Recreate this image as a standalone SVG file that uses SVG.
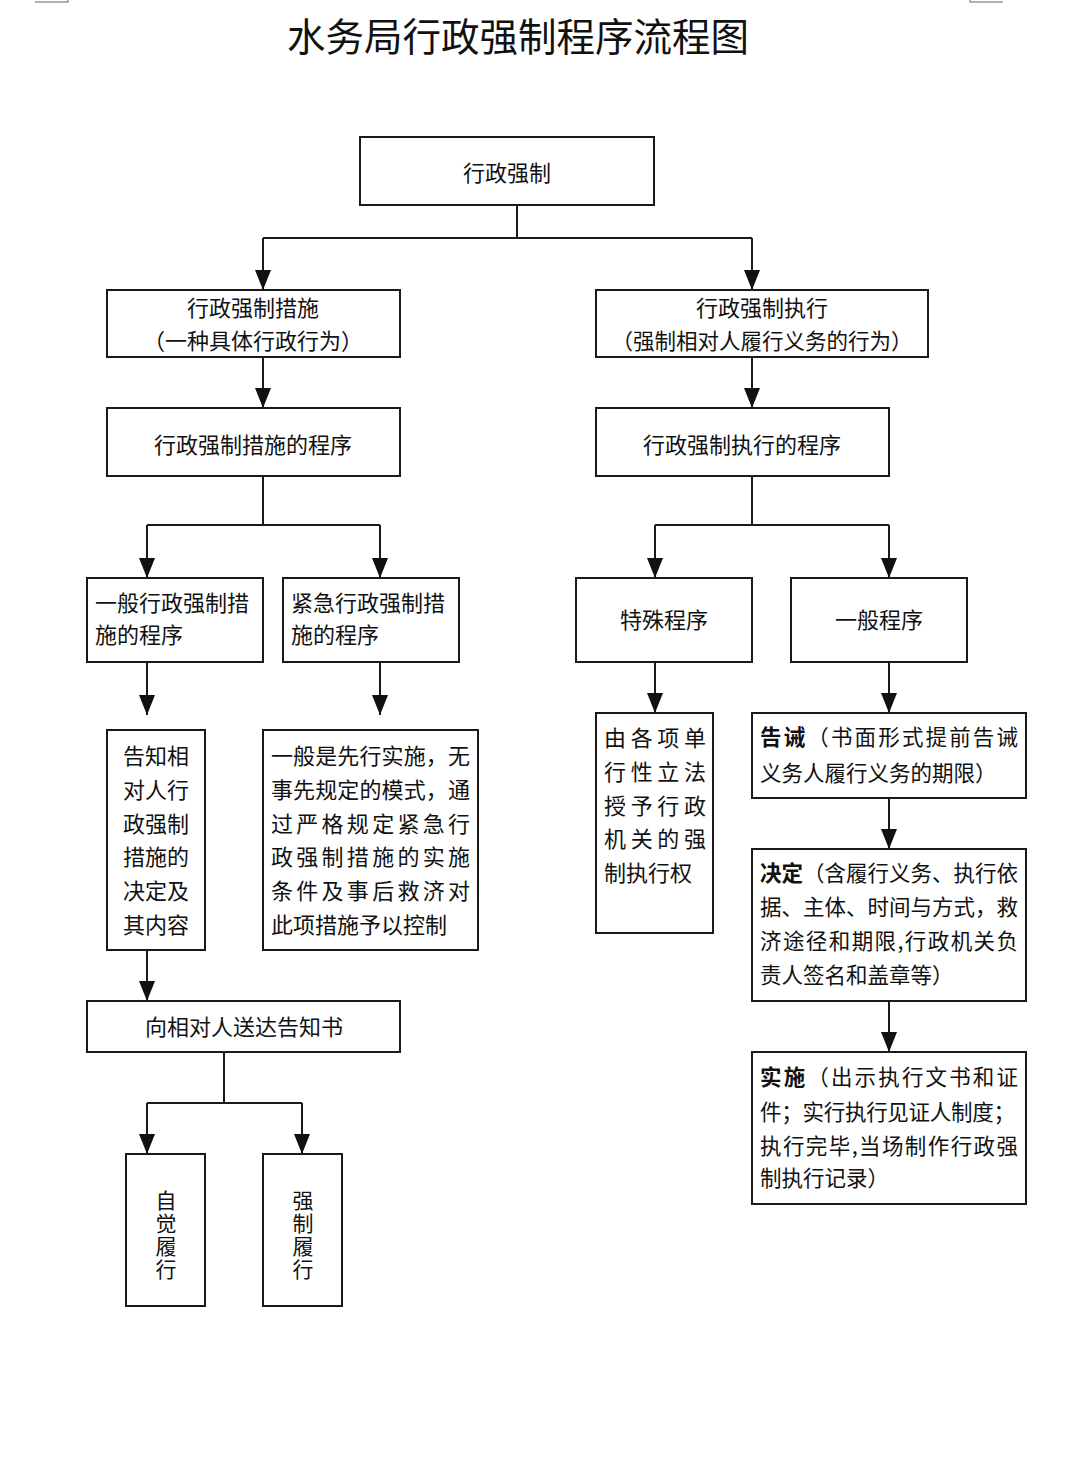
<svg xmlns="http://www.w3.org/2000/svg" width="1080" height="1484" viewBox="0 0 1080 1484">
<style>
.box{fill:#fff;stroke:#1a1a1a;stroke-width:2}
.t{font-family:"Noto Sans CJK SC","Noto Sans",sans-serif;font-size:22px;fill:#111}
.c{text-anchor:middle}
.s{font-size:21.5px}
.b{font-weight:bold}
.v{writing-mode:vertical-rl;font-size:21px;letter-spacing:2px}
.ln{fill:none;stroke:#1a1a1a;stroke-width:2}
.ar{fill:none;stroke:#1a1a1a;stroke-width:2;marker-end:url(#ah)}
.mark{fill:none;stroke:#999;stroke-width:1.5}
</style>
<defs>
<marker id="ah" viewBox="0 0 20 16" refX="20" refY="8" markerWidth="20" markerHeight="16" markerUnits="userSpaceOnUse" orient="auto">
<path d="M0,0 L20,8 L0,16 z" fill="#111"/>
</marker>
</defs>
<rect width="1080" height="1484" fill="#fff"/>
<path class="mark" d="M35,2 H68 V0"/>
<path class="mark" d="M1003,2 H970 V0"/>
<text class="t c" x="518" y="51" style="font-size:38.5px">水务局行政强制程序流程图</text>

<g id="connectors">
<path class="ln" d="M517,205 V238 H263"/>
<path class="ln" d="M517,238 H752"/>
<path class="ar" d="M263,238 V290"/>
<path class="ar" d="M752,238 V290"/>
<path class="ar" d="M263,357 V408"/>
<path class="ar" d="M752,357 V408"/>
<path class="ln" d="M263,476 V525 H147"/>
<path class="ln" d="M263,525 H380"/>
<path class="ar" d="M147,525 V578"/>
<path class="ar" d="M380,525 V578"/>
<path class="ln" d="M752,476 V525 H655"/>
<path class="ln" d="M752,525 H889"/>
<path class="ar" d="M655,525 V578"/>
<path class="ar" d="M889,525 V578"/>
<path class="ar" d="M147,662 V715"/>
<path class="ar" d="M380,662 V715"/>
<path class="ar" d="M655,662 V713"/>
<path class="ar" d="M889,662 V713"/>
<path class="ar" d="M889,798 V849"/>
<path class="ar" d="M889,1001 V1052"/>
<path class="ar" d="M147,950 V1001"/>
<path class="ln" d="M224,1052 V1103 H147"/>
<path class="ln" d="M224,1103 H302"/>
<path class="ar" d="M147,1103 V1154"/>
<path class="ar" d="M302,1103 V1154"/>
</g>

<g id="n_root">
<rect class="box" x="360" y="137" width="294" height="68"/>
<text class="t c" x="507" y="181">行政强制</text>
</g>
<g id="n_cuoshi">
<rect class="box" x="107" y="290" width="293" height="67"/>
<text class="t c" x="253" y="316">行政强制措施</text>
<text class="t c" x="253" y="349">（一种具体行政行为）</text>
</g>
<g id="n_zhixing">
<rect class="box" x="596" y="290" width="332" height="67"/>
<text class="t c" x="762" y="316">行政强制执行</text>
<text class="t c s" x="762" y="349">（强制相对人履行义务的行为）</text>
</g>
<g id="n_cuoshi_cx">
<rect class="box" x="107" y="408" width="293" height="68"/>
<text class="t c" x="253" y="453">行政强制措施的程序</text>
</g>
<g id="n_zhixing_cx">
<rect class="box" x="596" y="408" width="293" height="68"/>
<text class="t c" x="742" y="453">行政强制执行的程序</text>
</g>
<g id="n_yiban_cuoshi">
<rect class="box" x="87" y="578" width="176" height="84"/>
<text class="t" x="95" y="611">一般行政强制措</text>
<text class="t" x="95" y="643">施的程序</text>
</g>
<g id="n_jinji_cuoshi">
<rect class="box" x="283" y="578" width="176" height="84"/>
<text class="t" x="291" y="611">紧急行政强制措</text>
<text class="t" x="291" y="643">施的程序</text>
</g>
<g id="n_teshu">
<rect class="box" x="576" y="578" width="176" height="84"/>
<text class="t c" x="664" y="628">特殊程序</text>
</g>
<g id="n_yiban">
<rect class="box" x="791" y="578" width="176" height="84"/>
<text class="t c" x="879" y="628">一般程序</text>
</g>
<g id="n_gaozhi">
<rect class="box" x="107" y="730" width="98" height="220"/>
<text class="t" x="123" y="764">告知相</text>
<text class="t" x="123" y="798">对人行</text>
<text class="t" x="123" y="832">政强制</text>
<text class="t" x="123" y="865">措施的</text>
<text class="t" x="123" y="899">决定及</text>
<text class="t" x="123" y="933">其内容</text>
</g>
<g id="n_jinji_desc">
<rect class="box" x="263" y="730" width="215" height="220"/>
<text class="t" x="271" y="764" textLength="199" lengthAdjust="spacing">一般是先行实施，无</text>
<text class="t" x="271" y="798" textLength="199" lengthAdjust="spacing">事先规定的模式，通</text>
<text class="t" x="271" y="832" textLength="199" lengthAdjust="spacing">过严格规定紧急行</text>
<text class="t" x="271" y="865" textLength="199" lengthAdjust="spacing">政强制措施的实施</text>
<text class="t" x="271" y="899" textLength="199" lengthAdjust="spacing">条件及事后救济对</text>
<text class="t" x="271" y="933">此项措施予以控制</text>
</g>
<g id="n_teshu_desc">
<rect class="box" x="596" y="713" width="117" height="220"/>
<text class="t" x="604" y="746" textLength="102" lengthAdjust="spacing">由各项单</text>
<text class="t" x="604" y="780" textLength="102" lengthAdjust="spacing">行性立法</text>
<text class="t" x="604" y="814" textLength="102" lengthAdjust="spacing">授予行政</text>
<text class="t" x="604" y="847" textLength="102" lengthAdjust="spacing">机关的强</text>
<text class="t" x="604" y="881">制执行权</text>
</g>
<g id="n_gaojie">
<rect class="box" x="752" y="713" width="274" height="85"/>
<text class="t s" x="760" y="745" textLength="258" lengthAdjust="spacing"><tspan class="b">告诫</tspan>（书面形式提前告诫</text>
<text class="t s" x="760" y="781">义务人履行义务的期限）</text>
</g>
<g id="n_jueding">
<rect class="box" x="752" y="849" width="274" height="152"/>
<text class="t s" x="760" y="881" textLength="258" lengthAdjust="spacing"><tspan class="b">决定</tspan>（含履行义务、执行依</text>
<text class="t s" x="760" y="915" textLength="258" lengthAdjust="spacing">据、主体、时间与方式，救</text>
<text class="t s" x="760" y="949" textLength="258" lengthAdjust="spacing">济途径和期限,行政机关负</text>
<text class="t s" x="760" y="983">责人签名和盖章等）</text>
</g>
<g id="n_shishi">
<rect class="box" x="752" y="1052" width="274" height="152"/>
<text class="t s" x="760" y="1085" textLength="258" lengthAdjust="spacing"><tspan class="b">实施</tspan>（出示执行文书和证</text>
<text class="t s" x="760" y="1120" textLength="255" lengthAdjust="spacing">件；实行执行见证人制度；</text>
<text class="t s" x="760" y="1154" textLength="258" lengthAdjust="spacing">执行完毕,当场制作行政强</text>
<text class="t s" x="760" y="1186">制执行记录）</text>
</g>
<g id="n_songda">
<rect class="box" x="87" y="1001" width="313" height="51"/>
<text class="t c" x="244" y="1035">向相对人送达告知书</text>
</g>
<g id="n_zijue">
<rect class="box" x="126" y="1154" width="79" height="152"/>
<text class="t c v" x="166" y="1236">自觉履行</text>
</g>
<g id="n_qiangzhi">
<rect class="box" x="263" y="1154" width="79" height="152"/>
<text class="t c v" x="303" y="1236">强制履行</text>
</g>
</svg>
